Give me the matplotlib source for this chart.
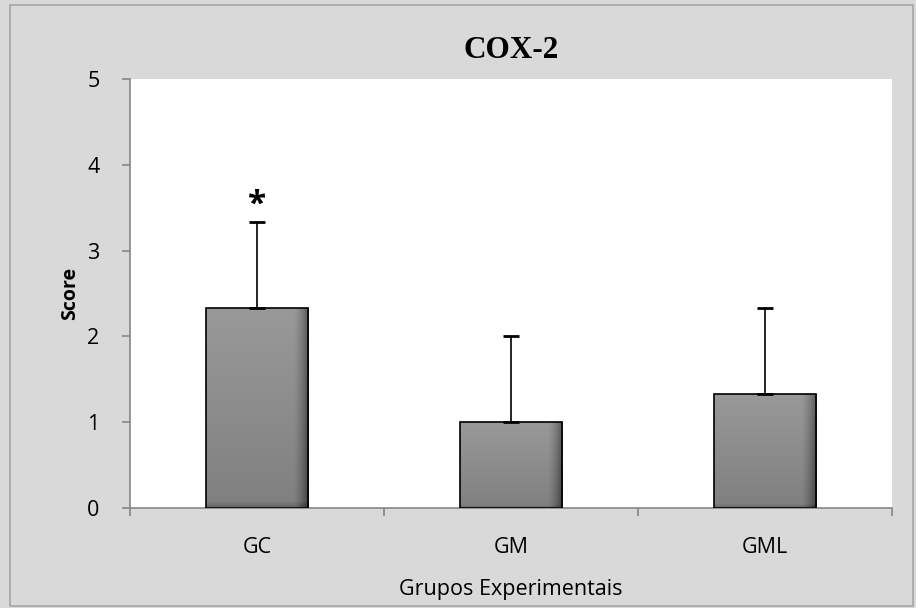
import numpy as np
import matplotlib
matplotlib.use("Agg")
import matplotlib.pyplot as plt
from matplotlib.patches import Rectangle

categories = ["GC", "GM", "GML"]
values = [2.33, 1.0, 1.33]
errors = [1.0, 1.0, 1.0]
yticks = [0, 1, 2, 3, 4, 5]
title = "COX-2"
xlabel = "Grupos Experimentais"
ylabel = "Score"

sans = ["Open Sans", "DejaVu Sans"]
fig = plt.figure(figsize=(9.16, 6.08), dpi=100)
fig.patch.set_facecolor("#D9D9D9")
fig.patches.append(Rectangle((10/916, 1 - 606/608), 903/916, 601/608, transform=fig.transFigure,
                             fill=False, edgecolor="#A6A6A6", linewidth=1.2))
ax = fig.add_axes([130/916, 1 - 508/608, 762/916, 429/608])
ax.set_facecolor("white")

x = np.arange(len(categories))
width = 0.405
bars = ax.bar(x, values, width=width, color="none", edgecolor="black", linewidth=1.2, zorder=3)

# gradient fill
ny, nx = 100, 100
yy = np.linspace(0, 1, ny)[:, None]  # 0 bottom .. 1 top
xx = np.linspace(0, 1, nx)[None, :]
base = 0.50 + 0.10 * yy
right_dark = np.clip((xx - 0.85) / 0.15, 0, 1) ** 1.5 * 0.25
bottom_dark = np.clip((0.03 - yy) / 0.03, 0, 1) * 0.1
shade = base - right_dark - bottom_dark
img = np.dstack([shade, shade, shade, np.ones_like(shade)])
for b in bars:
    x0 = b.get_x(); w = b.get_width(); h = b.get_height()
    im = ax.imshow(img, extent=[x0, x0 + w, 0, h], origin="lower", aspect="auto", zorder=2,
                   interpolation="bilinear")
    im.set_clip_path(b)

ax.errorbar(x, values, yerr=[np.zeros(len(errors)), errors], fmt="none", ecolor="black",
            elinewidth=1.2, capsize=6, capthick=2, zorder=4)
ax.text(x[0], values[0] + errors[0] + 0.2, "*", ha="center", va="center", fontsize=24,
        fontweight="bold", family=sans)

ax.set_xlim(-0.5, len(categories) - 0.5)
ax.set_ylim(0, 5)
ax.set_yticks(yticks)
ax.set_xticks(x)
ax.set_xticklabels(categories, family=sans, fontsize=15.5)
ax.set_yticklabels([str(t) for t in yticks], family=sans, fontsize=15.5)
ax.set_xticks(np.arange(-0.5, len(categories), 1.0), minor=True)
ax.tick_params(axis="x", which="major", length=0, pad=21)
ax.tick_params(axis="x", which="minor", length=6, color="#868686", width=1.2, direction="out")
ax.tick_params(axis="y", length=6, color="#868686", width=1.2, direction="out", pad=16)
for s in ["top", "right"]:
    ax.spines[s].set_visible(False)
for s in ["left", "bottom"]:
    ax.spines[s].set_color("#868686")
    ax.spines[s].set_linewidth(1.2)

ax.set_title(title, family=["Liberation Serif", "DejaVu Serif"], fontweight="bold", fontsize=22.5, pad=15)
ax.set_xlabel(xlabel, family=sans, fontsize=15.5, labelpad=15)
ax.set_ylabel(ylabel, family=sans, fontsize=14, fontweight="bold", labelpad=5)

fig.savefig("out.png", dpi=100, facecolor=fig.get_facecolor())
